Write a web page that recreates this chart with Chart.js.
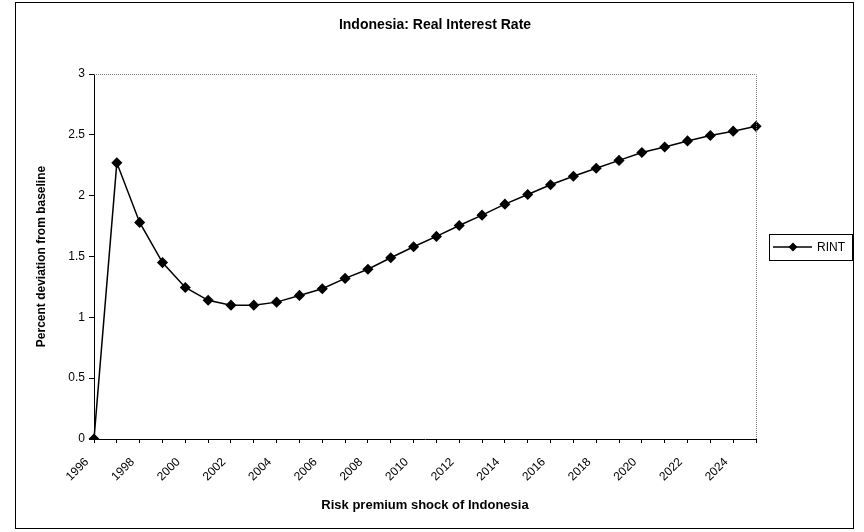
<!DOCTYPE html>
<html>
<head>
<meta charset="utf-8">
<script src="https://cdn.jsdelivr.net/npm/chart.js"></script>
<style>
  body { margin:0; padding:0; background:#ffffff }
  canvas { display:block }
</style>
</head>
<body>
<canvas id="chartCanvas" width="864" height="532"></canvas>
<script>
// Data
const years = ['1996','1997','1998','1999','2000','2001','2002','2003','2004','2005',
               '2006','2007','2008','2009','2010','2011','2012','2013','2014','2015',
               '2016','2017','2018','2019','2020','2021','2022','2023','2024','2025'];
const rint = [0, 2.27, 1.78, 1.45, 1.245, 1.14, 1.10, 1.10, 1.125, 1.18,
              1.235, 1.32, 1.395, 1.49, 1.58, 1.665, 1.755, 1.84, 1.93, 2.01,
              2.09, 2.16, 2.225, 2.29, 2.355, 2.40, 2.45, 2.495, 2.53, 2.57];
const yTicks = [0, 0.5, 1, 1.5, 2, 2.5, 3];
const chartTitle = 'Indonesia: Real Interest Rate';

const FONT = "'Liberation Sans', Arial, sans-serif";

// Frame, title centred on the frame, dotted plot border and boxed legend
const decor = {
  id: 'decor',
  afterDraw(chart) {
    const ctx = chart.ctx, a = chart.chartArea;
    ctx.save();
    // outer frame
    ctx.strokeStyle = '#000';
    ctx.lineWidth = 1;
    ctx.strokeRect(15.5, 2.5, 838, 526);

    // title
    ctx.fillStyle = '#000';
    ctx.font = 'bold 14px ' + FONT;
    ctx.textAlign = 'center';
    ctx.textBaseline = 'middle';
    ctx.fillText(chartTitle, 435, 25);

    // plot area border top/right (dotted grey)
    ctx.strokeStyle = '#777';
    ctx.setLineDash([1, 1]);
    ctx.beginPath();
    ctx.moveTo(a.left, a.top + 0.5);
    ctx.lineTo(a.right + 0.5, a.top + 0.5);
    ctx.lineTo(a.right + 0.5, a.bottom);
    ctx.stroke();
    ctx.setLineDash([]);

    // legend
    const ds = chart.data.datasets[0];
    const bx = a.right + 13, cy = 247;
    ctx.strokeStyle = '#000';
    ctx.lineWidth = 1;
    ctx.strokeRect(Math.round(bx) + 0.5, cy - 12.5, 83, 26);
    ctx.lineWidth = 1.5;
    ctx.beginPath();
    ctx.moveTo(bx + 4, cy);
    ctx.lineTo(bx + 43, cy);
    ctx.stroke();
    ctx.beginPath();
    ctx.moveTo(bx + 24, cy - 4.5);
    ctx.lineTo(bx + 28.5, cy);
    ctx.lineTo(bx + 24, cy + 4.5);
    ctx.lineTo(bx + 19.5, cy);
    ctx.closePath();
    ctx.fill();
    ctx.font = '12px ' + FONT;
    ctx.textAlign = 'left';
    ctx.fillText(ds.label, bx + 48, cy + 1);
    ctx.restore();
  }
};

new Chart(document.getElementById('chartCanvas'), {
  type: 'line',
  data: {
    labels: years,
    datasets: [{
      label: 'RINT',
      data: rint,
      borderColor: '#000',
      backgroundColor: '#000',
      borderWidth: 1.5,
      tension: 0,
      pointStyle: 'rectRot',
      pointRadius: 4.5,
      pointBackgroundColor: '#000',
      pointBorderColor: '#000'
    }]
  },
  options: {
    responsive: false,
    animation: false,
    devicePixelRatio: 1,
    layout: { padding: { left: 18, right: 108, top: 74, bottom: 7 } },
    plugins: {
      title: { display: false },
      legend: { display: false },
      tooltip: { enabled: false }
    },
    scales: {
      x: {
        type: 'category',
        offset: false,
        grid: { display: true, drawOnChartArea: false, color: '#000', tickLength: 4 },
        border: { display: true, color: '#000', width: 1 },
        ticks: {
          autoSkip: false,
          maxRotation: 45,
          minRotation: 45,
          padding: 12,
          labelOffset: -7,
          color: '#000',
          font: { family: FONT, size: 12 },
          callback(v, i) { return i % 2 === 0 ? years[i] : ''; }
        },
        title: {
          display: true,
          text: 'Risk premium shock of Indonesia',
          color: '#000',
          font: { family: FONT, size: 13, weight: 'bold' },
          padding: { top: 4, bottom: 12 }
        },
        afterFit(s) { s.height = 86; }
      },
      y: {
        min: 0,
        max: 3,
        grid: { display: true, drawOnChartArea: false, color: '#000', tickLength: 5 },
        border: { display: true, color: '#000', width: 1 },
        afterBuildTicks(s) { s.ticks = yTicks.map(v => ({ value: v })); },
        ticks: {
          color: '#000',
          font: { family: FONT, size: 12 },
          padding: 4,
          callback(v) { return String(v); }
        },
        title: {
          display: true,
          text: 'Percent deviation from baseline',
          color: '#000',
          font: { family: FONT, size: 12, weight: 'bold' },
          padding: { top: 16, bottom: 4 }
        },
        afterFit(s) { s.width = 76; }
      }
    }
  },
  plugins: [decor]
});
</script>
</body>
</html>
